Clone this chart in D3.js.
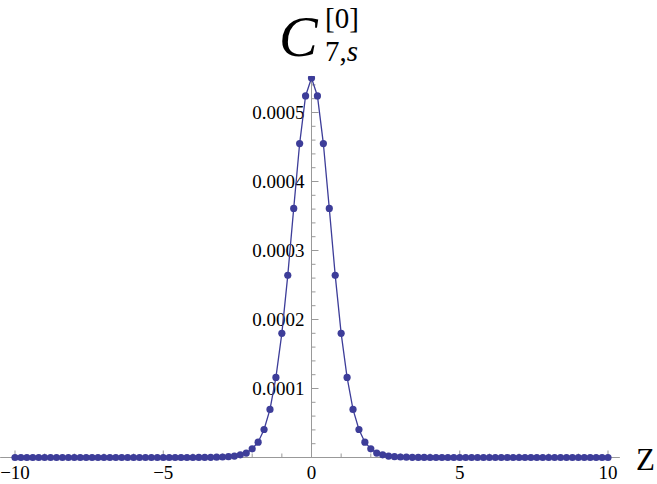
<!DOCTYPE html>
<html>
<head>
<meta charset="utf-8">
<script src="https://cdn.jsdelivr.net/npm/d3@7"></script>
<style>
  body { margin: 0; background: #fff; }
</style>
</head>
<body>
<script>
// sample grid z = -10 .. 10, step 0.2
var zValues = [
  -10, -9.8, -9.6, -9.4, -9.2, -9, -8.8, -8.6, -8.4, -8.2,
  -8, -7.8, -7.6, -7.4, -7.2, -7, -6.8, -6.6, -6.4, -6.2,
  -6, -5.8, -5.6, -5.4, -5.2, -5, -4.8, -4.6, -4.4, -4.2,
  -4, -3.8, -3.6, -3.4, -3.2, -3, -2.8, -2.6, -2.4, -2.2,
  -2, -1.8, -1.6, -1.4, -1.2, -1, -0.8, -0.6, -0.4, -0.2,
  0,
  0.2, 0.4, 0.6, 0.8, 1, 1.2, 1.4, 1.6, 1.8, 2,
  2.2, 2.4, 2.6, 2.8, 3, 3.2, 3.4, 3.6, 3.8, 4,
  4.2, 4.4, 4.6, 4.8, 5, 5.2, 5.4, 5.6, 5.8, 6,
  6.2, 6.4, 6.6, 6.8, 7, 7.2, 7.4, 7.6, 7.8, 8,
  8.2, 8.4, 8.6, 8.8, 9, 9.2, 9.4, 9.6, 9.8, 10
]
var cValues = [
  0, 0, 0, 0, 0, 0, 0, 0, 0, 0,
  0, 0, 0, 0, 0, 0, 0, 0, 0, 0,
  0, 0, 0, 0, 0, 0, 0, 0, 0, 0,
  0, 1e-7, 1e-7, 2e-7, 4e-7, 7e-7, 1.2e-6, 2.0e-6, 3.9e-6, 6.4e-6,
  1.26e-5, 2.22e-5, 4.06e-5, 6.97e-5, 1.16e-4, 1.80e-4, 2.64e-4, 3.61e-4, 4.55e-4, 5.24e-4,
  5.50e-4,
  5.24e-4, 4.55e-4, 3.61e-4, 2.64e-4, 1.80e-4, 1.16e-4, 6.97e-5, 4.06e-5, 2.22e-5, 1.26e-5,
  6.4e-6, 3.9e-6, 2.0e-6, 1.2e-6, 7e-7, 4e-7, 2e-7, 1e-7, 1e-7, 0,
  0, 0, 0, 0, 0, 0, 0, 0, 0, 0,
  0, 0, 0, 0, 0, 0, 0, 0, 0, 0,
  0, 0, 0, 0, 0, 0, 0, 0, 0, 0
]
var xMajorTicks = [-10, -5, 0, 5, 10]
var xTickLabels = ["\u221210", "\u22125", "0", "5", "10"]
var xMinorTicks = [-9, -8, -7, -6, -4, -3, -2, -1, 1, 2, 3, 4, 6, 7, 8, 9]
var yMajorTicks = [0.0001, 0.0002, 0.0003, 0.0004, 0.0005]
var yTickLabels = ["0.0001", "0.0002", "0.0003", "0.0004", "0.0005"]
var yMinorTicks = [0.00002, 0.00004, 0.00006, 0.00008, 0.00012, 0.00014, 0.00016, 0.00018,
  0.00022, 0.00024, 0.00026, 0.00028, 0.00032, 0.00034, 0.00036, 0.00038,
  0.00042, 0.00044, 0.00046, 0.00048, 0.00052, 0.00054]

var width = 657
var height = 484
var lineColor = "#3d3d99"
var axisColor = "#999"
var serif = "Liberation Serif"

var xScale = d3.scaleLinear()
    .domain([-10, 10])
    .range([15, 608])

var yScale = d3.scaleLinear()
    .domain([0, 0.0005])
    .range([457.5, 112.5])

var yTop = 0.000553

var dataset = zValues.map((z, i) => {
    return { x: z, y: cValues[i] }
})

var svg = d3.select("body").append("svg")
    .attr("width", width)
    .attr("height", height)
    .style("display", "block")
    .style("font-family", serif)

svg.append("defs").append("clipPath")
    .attr("id", "plotClip")
    .append("rect")
    .attr("x", 0)
    .attr("y", yScale(yTop))
    .attr("width", width)
    .attr("height", height)

// x axis
var xAxis = svg.append("g")
    .attr("class", "x axis")
    .attr("transform", "translate(0," + yScale(0) + ")")

xAxis.append("line")
    .attr("x1", xScale(-10.5))
    .attr("x2", xScale(10.4))
    .attr("stroke", axisColor)

xAxis.selectAll(".minor")
    .data(xMinorTicks)
    .enter().append("line")
    .attr("class", "minor")
    .attr("x1", d => xScale(d)).attr("x2", d => xScale(d))
    .attr("y1", 0).attr("y2", -4)
    .attr("stroke", axisColor)

xAxis.selectAll(".major")
    .data(xMajorTicks)
    .enter().append("line")
    .attr("class", "major")
    .attr("x1", d => xScale(d)).attr("x2", d => xScale(d))
    .attr("y1", 0).attr("y2", -7)
    .attr("stroke", axisColor)

xAxis.selectAll(".label")
    .data(xMajorTicks)
    .enter().append("text")
    .attr("class", "label")
    .attr("x", d => xScale(d))
    .attr("y", 21.5)
    .attr("text-anchor", "middle")
    .style("font-size", "19px")
    .text((d, i) => xTickLabels[i])

// y axis, sits at z = 0
var yAxis = svg.append("g")
    .attr("class", "y axis")
    .attr("transform", "translate(" + xScale(0) + ",0)")

yAxis.append("line")
    .attr("y1", yScale(0))
    .attr("y2", yScale(yTop))
    .attr("stroke", axisColor)

yAxis.selectAll(".minor")
    .data(yMinorTicks)
    .enter().append("line")
    .attr("class", "minor")
    .attr("y1", d => yScale(d)).attr("y2", d => yScale(d))
    .attr("x1", 0).attr("x2", 4)
    .attr("stroke", axisColor)

yAxis.selectAll(".major")
    .data(yMajorTicks)
    .enter().append("line")
    .attr("class", "major")
    .attr("y1", d => yScale(d)).attr("y2", d => yScale(d))
    .attr("x1", 0).attr("x2", 7)
    .attr("stroke", axisColor)

yAxis.selectAll(".label")
    .data(yMajorTicks)
    .enter().append("text")
    .attr("class", "label")
    .attr("x", -7)
    .attr("y", d => yScale(d))
    .attr("dy", "0.33em")
    .attr("text-anchor", "end")
    .style("font-size", "19px")
    .text((d, i) => yTickLabels[i])

// the data
var plot = svg.append("g").attr("clip-path", "url(#plotClip)")

var line = d3.line()
    .x(d => xScale(d.x))
    .y(d => yScale(d.y))

plot.append("path")
    .datum(dataset)
    .attr("d", line)
    .attr("fill", "none")
    .attr("stroke", lineColor)
    .attr("stroke-width", 1.3)

plot.selectAll("circle")
    .data(dataset)
    .enter().append("circle")
    .attr("cx", d => xScale(d.x))
    .attr("cy", d => yScale(d.y))
    .attr("r", 3.6)
    .attr("fill", lineColor)

// axis label
svg.append("text")
    .attr("x", 636)
    .attr("y", 470)
    .style("font-size", "31px")
    .text("Z")

// plot label C^[0]_{7,s}
var title = svg.append("g")
title.append("text")
    .attr("x", 279)
    .attr("y", 56)
    .style("font-size", "58px")
    .style("font-style", "italic")
    .text("C")
title.append("text")
    .attr("x", 325)
    .attr("y", 28)
    .style("font-size", "29px")
    .text("[0]")
var sub = title.append("text")
    .attr("x", 325)
    .attr("y", 61)
    .style("font-size", "29px")
sub.append("tspan").text("7,")
sub.append("tspan").style("font-style", "italic").text("s")
</script>
</body>
</html>
